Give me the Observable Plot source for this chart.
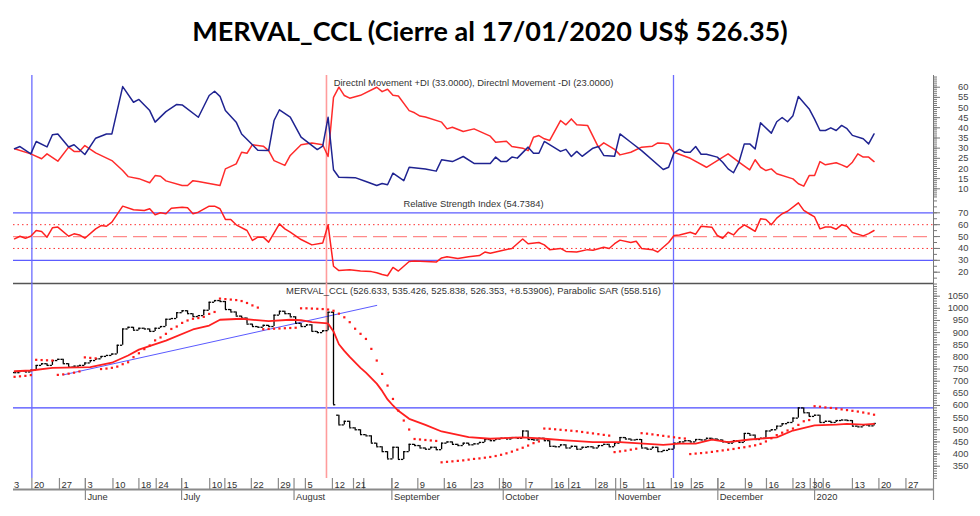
<!DOCTYPE html>
<html><head><meta charset="utf-8">
<script src="https://cdn.jsdelivr.net/npm/d3@7"></script>
<script src="https://cdn.jsdelivr.net/npm/@observablehq/plot@0.6"></script>
<style>
body{margin:0;background:#fff;width:980px;height:516px;overflow:hidden;position:relative}
#title{position:absolute;left:0;top:14px;width:980px;text-align:center;font-family:Lato,sans-serif;font-weight:bold;font-size:27px;line-height:34px;color:#000}
#clip{position:absolute;left:13px;top:0;width:967px;height:516px;overflow:hidden}
.panel{position:absolute;left:-13px;width:980px}
</style></head><body>
<div id="title">MERVAL_CCL (Cierre al 17/01/2020 US$ 526.35)</div>
<div id="clip">
<div class="panel" id="p1" style="top:75px"></div>
<div class="panel" id="p2" style="top:198px"></div>
<div class="panel" id="p3" style="top:281px"></div>
</div>
<script>
// ---------- DATA (x = trading-day index, 0 = first bar) ----------
const close = [735,742,738,745,765,772,765,785,790,772,758,762,765,775,785,792,802,806,812,848,
915,922,910,918,915,905,918,925,955,958,982,990,978,966,970,992,1025,1032,1028,995,
985,968,960,935,925,922,930,925,972,988,978,965,938,925,932,905,900,908,984,603,
520,535,508,500,480,475,445,430,410,380,428,378,410,440,435,425,420,428,418,445,
450,440,435,445,438,442,448,460,455,462,465,462,468,465,495,460,458,465,455,432,
430,438,425,432,420,428,430,425,435,440,430,445,468,462,458,460,425,420,428,410,
415,420,445,450,455,450,460,458,465,462,458,450,445,455,448,485,478,460,465,495,
500,515,525,530,548,590,570,555,560,530,535,530,538,540,538,515,512,520,516,526];
const gapDay = [60];
const gapOpen = [560];

const sar = [718,720,722,725,788,787,786,785,726,728,731,735,740,798,796,794,750,752,755,760,
770,778,799,815,832,847,868,880,895,915,925,940,950,957,960,965,977,985,1040,1038,
1036,1034,1030,1022,1012,1003,914,915,916,917,918,919,920,1000,1000,999,998,997,995,990,
978,963,943,916,895,874,833,785,730,682,627,579,538,501,462,460,458,456,454,366,
368,370,372,374,377,380,382,385,388,392,397,403,410,418,426,435,445,452,505,504,
502,500,498,496,494,491,488,485,482,479,476,408,411,414,418,422,486,484,481,478,
475,472,469,466,464,400,402,404,406,409,412,415,418,421,425,428,432,436,442,452,
465,478,488,497,505,520,535,540,597,595,592,590,587,584,581,578,575,571,567,562];

const maI = [0,3,7,14,18,21,23,28,33,36,38,42,47,51,53,55,58,59,60,61,62,64,65,67,68,69,70,71,73,76,79,84,88,94,98,102,107,112,120,123,126,129,132,136,141,144,148,152,154,157,159];
const maV = [741,744,755,758,776,806,830,867,913,929,953,957,947,953,951,943,938,905,852,825,800,755,735,690,660,625,600,578,545,520,493,470,463,469,463,456,449,449,438,443,443,459,449,460,469,497,518,521,524,521,524];

const trendI = [9, 67];
const trendV = [726, 1012];
const resistance = [590];

const pdiI = [0,1,3,4,6,7,8,10,11,13,15,17,18,20,22,23,25,26,28,30,31,34,36,37,38,39,41,42,44,45,47,48,49,51,53,56,57,58,59,60,63,65,67,68,69,70,72,73,76,78,79,81,83,85,88,89,90,91,92,93,95,96,97,98,101,102,103,104,105,107,108,109,111,112,114,116,120,121,122,123,124,125,126,127,128,130,131,132,133,134,135,136,137,138,140,141,142,143,144,145,147,148,149,150,151,152,153,154,155,157,158,159];
const pdiV = [29.7,30.8,27.2,33.3,30.6,36.6,37,30.6,31.7,26.9,34.9,37,37,60.3,52.6,54,48.5,42.8,48,51.5,51.3,45.2,55.9,58,55.5,48.5,42.8,37,31.7,29,28.8,43.6,48.9,45.3,35.4,29.3,31,45.2,19.4,15.7,15.5,13.6,11.6,12.6,12,17.7,14,20.6,19.8,18.7,24.3,23.4,25.9,22.5,22.5,25.6,23.4,23.4,25.6,25.1,30.5,27.5,27.5,33.3,28.4,29.4,25.9,28.4,26,30,30.8,26.4,26,37,32.9,28.8,19.5,20.6,27.7,29.4,28,28,30.8,27,27,25.6,23.1,19.8,17.9,23.1,32.1,32.1,29.6,42.5,37.4,43,45.1,43,46,55.4,49.3,44.3,38.7,38.7,40,38.7,41.2,39.6,36.3,34.6,32.1,37];

const mdiI = [0,3,5,6,8,10,11,12,13,15,18,20,21,23,25,26,27,28,31,32,33,34,38,39,41,42,43,44,46,47,48,50,51,53,55,57,58,59,60,61,62,64,67,68,69,70,71,73,74,75,76,79,80,81,83,85,88,89,91,92,94,95,96,97,98,99,101,102,103,104,106,108,109,111,112,114,116,118,119,120,121,122,125,128,132,134,136,137,138,139,140,141,144,145,146,147,148,149,150,152,153,154,155,156,157,158,159];
const mdiV = [29.7,27.2,24.8,27.2,23.6,30.5,28.4,28.4,31.3,27.7,23.9,19,16,15,13,16.5,16.2,13.9,11.6,11.6,14,13.6,11.6,19.8,22.3,28,27.5,31.7,31,28.8,23.9,21.5,26.4,31.7,32.5,31.7,25.9,55,60,55.9,54.6,56,60,57.8,59,56,55.7,48.5,47.4,45.8,45.3,42.8,39.5,40.3,38.2,39.5,35.9,32.9,33.4,30.8,30,28.8,35.4,36.2,34.6,33.8,43.6,41.5,44.4,41.5,41.2,30.5,32.6,29.4,26.7,28,30.5,31,32.6,32.4,32.1,28,25,20.6,27.2,23.1,19.3,24.3,20.6,19,19.8,17.4,14.9,12.5,11.3,16.5,16.5,23.4,21.8,22.8,21.8,20.6,23.1,27.2,25.6,25.6,23.4];

const rsiI = [0,1,2,3,4,5,6,7,8,10,11,12,13,15,16,17,18,20,22,24,25,26,27,28,29,31,32,33,34,36,37,38,39,40,41,43,44,45,46,47,49,50,51,53,55,57,58,59,60,62,64,66,67,68,69,70,71,72,73,74,76,78,79,80,82,84,86,87,88,90,92,94,95,97,98,99,101,102,104,106,107,109,110,111,112,114,115,116,118,119,120,121,122,123,125,126,127,129,130,131,132,133,134,135,136,137,138,139,140,141,142,143,145,146,147,148,149,150,151,152,153,154,155,157,158,159];
const rsiV = [48.1,50.3,48.6,50.3,55.1,54.2,49.5,57.4,58,50.3,52.3,51.4,48.6,56.5,59.3,58.7,62.1,75.6,72.5,72,73.4,68.3,70,69.2,73.9,74.7,74.2,69.2,70.5,75.6,75.6,73.4,64.4,64.4,59.9,55.1,46.7,49.5,49.5,45.3,60.7,56.5,53.7,47.5,43,44.5,59.9,25,21.4,22,21,20.5,19.5,18,17,24,21,25,29,29.5,29,28.5,32,33,31.5,33,34,37,36,38,40,48,44,45,43,39,40,37.5,37,39,38.5,41,40,44,47,45,46,40,39,37,41,45,50.9,51.4,53.6,52,58.7,57.9,50.9,48.6,53.6,51.4,56.5,59.9,57.2,54.4,64.9,64.4,59.9,65.5,69.2,71.3,78.4,72,69.2,66.5,56.5,58,58,56.2,59.9,58.7,53.4,50.6,52.5,55.1];

// markers and axis labels
const blueMarks = [3.2, 121.9];
const redMarks = [57.7];
const dayI = [-1.85,3.2,8.3,13.1,18.2,23.0,26.2,30.9,36.1,38.9,43.8,48.8,53.8,58.8,62.7,64.6,69.8,74.6,79.5,84.5,89.7,94.6,99.4,102.5,107.5,112.1,116.4,121.5,125.2,130.1,135.2,139.1,144.0,147.2,149.6,155.0,159.9,164.9];
const dayLabels = ["3","20","27","3","10","18","24","1","10","15","22","29","5","12","21","","2","9","16","23","30","7","16","21","28","5","11","19","25","2","9","16","23","30","6","13","20","27"];
const monthI = [13.1,30.9,51.7,69.8,90.4,111.2,130.1,148.0,170];
const monthLabels = ["June","July","August","September","October","November","December","2020",""];
const dmiTicks = [10,15,20,25,30,35,40,45,50,55,60];
const rsiTicks = [20,30,40,50,60,70];
const priceTicks = [350,400,450,500,550,600,650,700,750,800,850,900,950,1000,1050];
const rsiLevels = {upper: [70, 30], dotted: [60, 40], mid: [50]};

const dmiTitle = "Directnl Movement +DI (33.0000), Directnl Movement -DI (23.0000)";
const rsiTitle = "Relative Strength Index (54.7384)";
const priceTitle = "MERVAL_CCL (526.633, 535.426, 525.838, 526.353, +8.53906), Parabolic SAR (558.516)";

// ---------- BUILD ----------
const XD = [-0.2, 170];
const FONT = "Liberation Sans, Arial, sans-serif";
const FS = 9.4;
const TXT = "#333";
const common = {
  width: 980, marginLeft: 13, marginRight: 47,
  x: {domain: XD, axis: null},
  style: {fontFamily: FONT, fontSize: FS + "px", background: "transparent", overflow: "visible", maxWidth: "none"}
};
const pairs = (I, V) => I.map((i, k) => ({i, v: V[k]}));
const vRules = () => [
  Plot.ruleX(blueMarks, {x: d => d, stroke: "#6b6bff", strokeWidth: 1.3}),
  Plot.ruleX(redMarks, {x: d => d, stroke: "#ff9c9c", strokeWidth: 1.6})
];
const rightAxis = (major, minor) => [
  Plot.ruleX([XD[1]], {stroke: "#777"}),
  Plot.axisY({anchor: "right", ticks: minor, tickSize: 3, fill: "none", stroke: "#777", label: null}),
  Plot.axisY({anchor: "right", ticks: major, tickSize: 6, tickPadding: 29, textAnchor: "end", fill: "#444", stroke: "#777", fontSize: FS, label: null, tickFormat: d => String(d)})
];

// Panel 1: DMI
const dmiDomain = [5.23, 65.76];
document.getElementById("p1").append(Plot.plot({
  ...common, height: 123, marginTop: 0, marginBottom: 0,
  y: {domain: dmiDomain, axis: null},
  marks: [
    ...vRules(),
    ...rightAxis(dmiTicks, d3.range(6, 66, 1)),
    Plot.line(pairs(mdiI, mdiV), {x: "i", y: "v", stroke: "#ff2b2b", strokeWidth: 1.5}),
    Plot.line(pairs(pdiI, pdiV), {x: "i", y: "v", stroke: "#1f2391", strokeWidth: 1.5}),
    Plot.text([dmiTitle], {frameAnchor: "top", text: d => d, dy: 3.5, fill: TXT, fontSize: FS})
  ]
}));

// Panel 2: RSI
const rsiDomain = [10.49, 82.04];
document.getElementById("p2").append(Plot.plot({
  ...common, height: 85, marginTop: 0, marginBottom: 0,
  y: {domain: rsiDomain, axis: null},
  marks: [
    Plot.ruleY(rsiLevels.mid, {y: d => d, stroke: "#ff8a8a", strokeWidth: 1.3, strokeDasharray: "14,6"}),
    Plot.ruleY(rsiLevels.dotted, {y: d => d, stroke: "#ff3030", strokeWidth: 1, strokeDasharray: "1.5,3"}),
    Plot.ruleY(rsiLevels.upper, {y: d => d, stroke: "#5c5cff", strokeWidth: 1.3}),
    ...vRules(),
    ...rightAxis(rsiTicks, d3.range(15, 81, 5)),
    Plot.line(pairs(rsiI, rsiV), {x: "i", y: "v", stroke: "#ff2020", strokeWidth: 1.5}),
    Plot.text([rsiTitle], {frameAnchor: "top", text: d => d, dy: 1.5, fill: TXT, fontSize: FS})
  ]
}));

// Panel 3: price
const priceDomain = [299.4, 1102.2];
const bars = close.map((c, i) => {
  const g = gapDay.indexOf(i);
  const o = g >= 0 ? gapOpen[g] : (i === 0 ? c : close[i - 1]);
  return {i, o, c, lo: Math.min(o, c), hi: Math.max(o, c)};
});
const y0 = priceDomain[0];
const dayTicks = dayI.map((i, k) => ({i, label: dayLabels[k]}));
document.getElementById("p3").append(Plot.plot({
  ...common, height: 235, marginTop: 2, marginBottom: 38,
  y: {domain: priceDomain, axis: null},
  marks: [
    Plot.ruleY([priceDomain[1]], {y: d => d, stroke: "#555", strokeWidth: 1.6}),
    Plot.ruleY(resistance, {y: d => d, stroke: "#4a4aff", strokeWidth: 1.3}),
    ...vRules(),
    ...rightAxis(priceTicks, d3.range(300, 1101, 10)),
    Plot.line(pairs(trendI, trendV), {x: "i", y: "v", stroke: "#5a5aff", strokeWidth: 1}),
    Plot.ruleX(bars, {x: "i", y1: "lo", y2: "hi", stroke: "#000", strokeWidth: 1.3}),
    Plot.ruleY(bars, {y: "o", x1: d => d.i - 0.42, x2: "i", stroke: "#000", strokeWidth: 1.3}),
    Plot.ruleY(bars, {y: "c", x1: "i", x2: d => d.i + 0.42, stroke: "#000", strokeWidth: 1.3}),
    Plot.line(pairs(maI, maV), {x: "i", y: "v", stroke: "#ff2020", strokeWidth: 1.8}),
    Plot.dot(sar.map((v, i) => ({i, v})), {x: "i", y: "v", symbol: "square", r: 1.25, fill: "#ff1a1a", stroke: "none"}),
    Plot.text([priceTitle], {frameAnchor: "top", text: d => d, dy: 3.5, fill: TXT, fontSize: FS}),
    // time axis
    Plot.ruleY([y0], {y: d => d, dy: 11, stroke: "#8a8a8a", strokeWidth: 2}),
    Plot.ruleX(dayI, {x: d => d, y1: y0, y2: y0, insetBottom: -11, stroke: "#8a8a8a", strokeWidth: 1.2}),
    Plot.ruleX(monthI, {x: d => d, y1: y0, y2: y0, insetBottom: -22, stroke: "#8a8a8a", strokeWidth: 1.2}),
    Plot.text(dayTicks.slice(0, 1), {x: "i", y: y0, text: "label", textAnchor: "start", dx: 9.5, dy: 6, fill: TXT, fontSize: FS}),
    Plot.text(dayTicks.slice(1), {x: "i", y: y0, text: "label", textAnchor: "start", dx: 2, dy: 6, fill: TXT, fontSize: FS}),
    Plot.text(monthI, {x: d => d, y: y0, text: (d, k) => monthLabels[k], textAnchor: "start", dx: 2, dy: 18, fill: TXT, fontSize: FS})
  ]
}));
</script>
</body></html>
